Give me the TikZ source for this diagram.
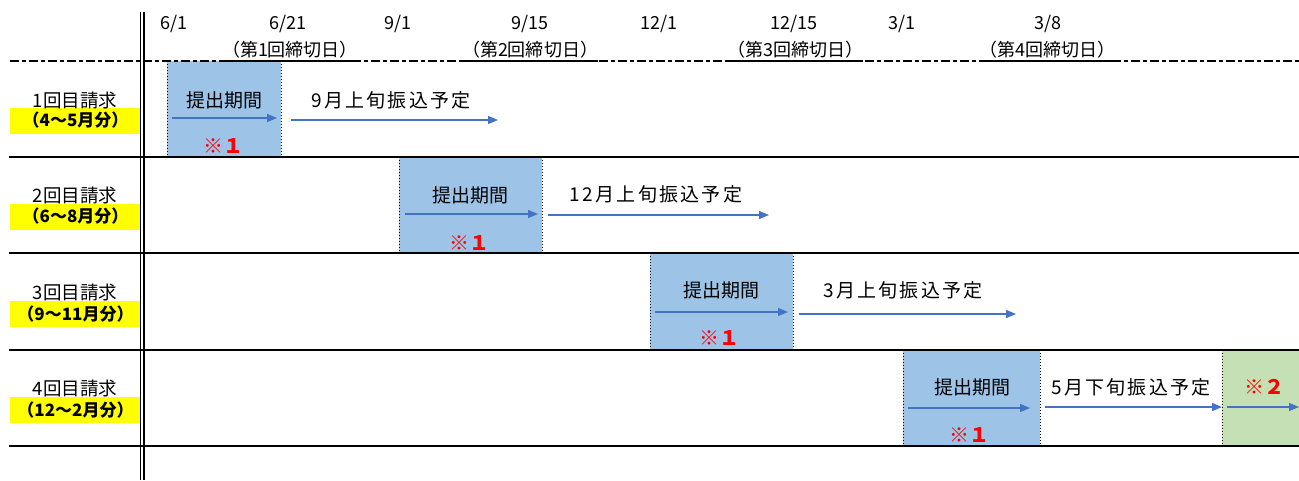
\documentclass[tikz,border=0pt]{standalone}
\usepackage{fontspec}
\setmainfont{Noto Sans CJK JP}
\newfontfamily\jpsp[LetterSpace=12]{Noto Sans CJK JP}
\usetikzlibrary{arrows.meta}
\definecolor{boxblue}{HTML}{9DC3E6}
\definecolor{boxgreen}{HTML}{C5E0B4}
\definecolor{arrblue}{HTML}{4472C4}
\definecolor{hiyellow}{HTML}{FFFF00}
\definecolor{notered}{HTML}{FF0000}
\begin{document}
\begin{tikzpicture}[x=1pt,y=-1pt,
  rowline/.style={line width=2.2pt},
  vline/.style={line width=1.7pt},
  headdash/.style={line width=2pt, dash pattern=on 9pt off 3pt on 4pt off 3pt},
  uline/.style={line width=2pt},
  pbox/.style={fill=boxblue, draw=none, inner sep=0pt, anchor=north west},
  gbox/.style={fill=boxgreen, draw=none, inner sep=0pt, anchor=north west},
  dotedge/.style={line width=1pt, dotted},
  flow/.style={arrblue, line width=1.3pt, -{Triangle[length=10pt,width=8pt]}},
  datelbl/.style={font=\fontsize{18}{20}\selectfont, inner sep=0pt},
  deadlbl/.style={font=\fontsize{18}{20}\selectfont, inner sep=0pt},
  rowlbl/.style={font=\fontsize{18.5}{20}\selectfont, inner sep=0pt},
  monthlbl/.style={font=\fontsize{17}{20}\selectfont\bfseries, fill=hiyellow, inner sep=0pt,
     minimum width=131pt, minimum height=26pt},
  periodlbl/.style={font=\fontsize{19}{22}\selectfont, inner sep=0pt},
  paylbl/.style={font=\fontsize{19}{22}\selectfont\jpsp, inner sep=0pt},
  notelbl/.style={font=\fontsize{20}{22}\selectfont\bfseries, text=notered, inner sep=0pt}
]
\useasboundingbox (0,0) rectangle (1299,480);
\fill[white] (0,0) rectangle (1299,480);

% boxes
\node[pbox, minimum width=114pt, minimum height=96pt] (b1) at (167,61) {};
\node[pbox, minimum width=143pt, minimum height=96pt] (b2) at (399,157) {};
\node[pbox, minimum width=143pt, minimum height=97pt] (b3) at (650,253) {};
\node[pbox, minimum width=137pt, minimum height=96pt] (b4) at (903,350) {};
\node[gbox, minimum width=77pt, minimum height=96pt] (g4) at (1222,350) {};

\foreach \b in {b1,b2,b3,b4} {
  \draw[dotedge] (\b.north west) -- (\b.south west);
  \draw[dotedge] (\b.north east) -- (\b.south east);
}
\draw[dotedge] (g4.north west) -- (g4.south west);

% row labels
\node[monthlbl] (m1) at (75.5,120.5) {（4～5月分）};
\node[monthlbl] (m2) at (75.5,216.5) {（6～8月分）};
\node[monthlbl] (m3) at (75.5,314) {（9～11月分）};
\node[monthlbl] (m4) at (75.5,410) {（12～2月分）};
\node[rowlbl] (l1) at (75,100) {1回目請求};
\node[rowlbl] (l2) at (75,195) {2回目請求};
\node[rowlbl] (l3) at (75,292) {3回目請求};
\node[rowlbl] (l4) at (75,388) {4回目請求};

% header
\node[datelbl] (t1) at (174,24) {6/1};
\node[datelbl] (t2) at (288,24) {6/21};
\node[datelbl] (t3) at (398,24) {9/1};
\node[datelbl] (t4) at (530,24) {9/15};
\node[datelbl] (t5) at (659,24) {12/1};
\node[datelbl] (t6) at (794,24) {12/15};
\node[datelbl] (t7) at (902,24) {3/1};
\node[datelbl] (t8) at (1048,24) {3/8};
\node[deadlbl] (d1) at (290,50) {（第1回締切日）};
\node[deadlbl] (d2) at (530,50) {（第2回締切日）};
\node[deadlbl] (d3) at (795,50) {（第3回締切日）};
\node[deadlbl] (d4) at (1047,50) {（第4回締切日）};

\coordinate (hl) at (0,61);
\coordinate (hr) at (1299,61);
\coordinate (hs) at (10,61);
\draw[headdash] (hs) -- (hr);
\foreach \d in {d1,d2,d3,d4} \draw[uline] (\d.west |- hl) -- (\d.east |- hl);

% row lines
\foreach \yy in {157,253,350,446} \draw[rowline] (9,\yy) -- (1299,\yy);

% double vertical line
\draw[vline] (140.5,12) -- (140.5,480);
\draw[vline] (143.8,12) -- (143.8,480);

% row 1
\node[periodlbl] (p1) at (224,100) {提出期間};
\node[notelbl] (n1) at (223,146) {※１};
\node[paylbl] (y1) at (391,100) {9月上旬振込予定};
\coordinate (a1s) at (172,118); \coordinate (a1e) at (277,118);
\coordinate (c1s) at (291,120); \coordinate (c1e) at (498,120);
\draw[flow] (a1s) -- (a1e);
\draw[flow] (c1s) -- (c1e);

% row 2
\node[periodlbl] (p2) at (470,195) {提出期間};
\node[notelbl] (n2) at (469,243) {※１};
\node[paylbl] (y2) at (656,194) {12月上旬振込予定};
\coordinate (a2s) at (405,214); \coordinate (a2e) at (538,214);
\coordinate (c2s) at (548,215); \coordinate (c2e) at (769,215);
\draw[flow] (a2s) -- (a2e);
\draw[flow] (c2s) -- (c2e);

% row 3
\node[periodlbl] (p3) at (721,290) {提出期間};
\node[notelbl] (n3) at (719,338) {※１};
\node[paylbl] (y3) at (903,290) {3月上旬振込予定};
\coordinate (a3s) at (655,312); \coordinate (a3e) at (788,312);
\coordinate (c3s) at (799,314); \coordinate (c3e) at (1016,314);
\draw[flow] (a3s) -- (a3e);
\draw[flow] (c3s) -- (c3e);

% row 4
\node[periodlbl] (p4) at (972,387) {提出期間};
\node[notelbl] (n4) at (969,435) {※１};
\node[paylbl] (y4) at (1131,387) {5月下旬振込予定};
\node[notelbl] (n5) at (1264,387) {※２};
\coordinate (a4s) at (908,408); \coordinate (a4e) at (1030,408);
\coordinate (c4s) at (1045,407); \coordinate (c4e) at (1222,407);
\coordinate (e4s) at (1227,407); \coordinate (e4e) at (1299,407);
\draw[flow] (a4s) -- (a4e);
\draw[flow] (c4s) -- (c4e);
\draw[flow] (e4s) -- (e4e);
\end{tikzpicture}
\end{document}
